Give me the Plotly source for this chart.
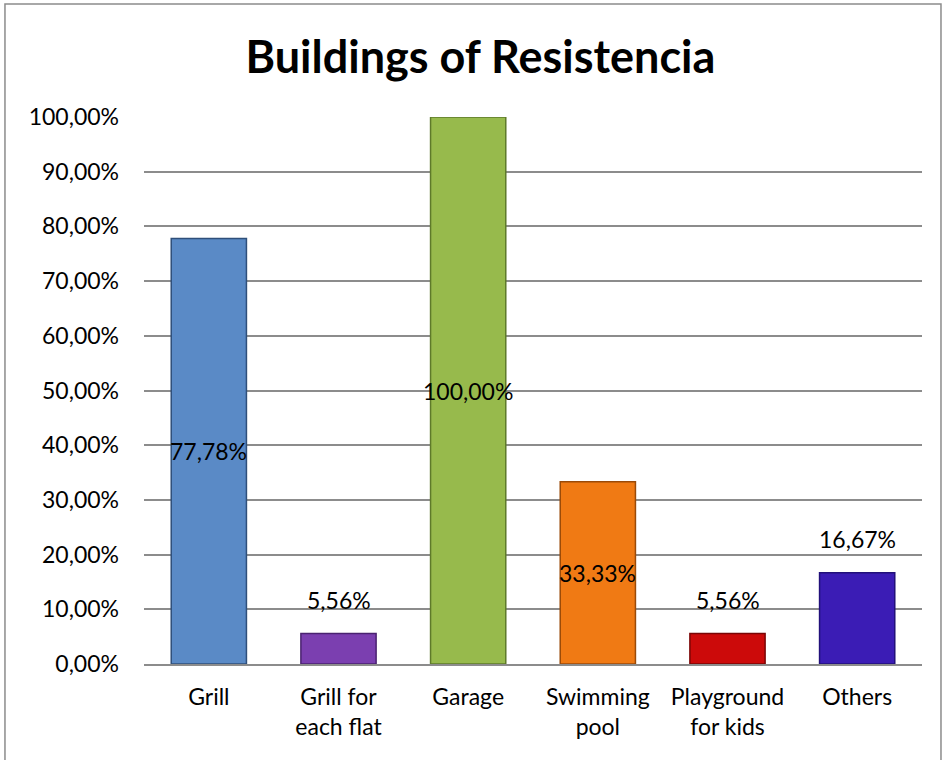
import plotly.graph_objects as go

# data
categories = ["Grill", "Grill for<br>each flat", "Garage", "Swimming<br>pool", "Playground<br>for kids", "Others"]
values = [77.78, 5.56, 100.00, 33.33, 5.56, 16.67]
label_inside = [True, False, True, True, False, False]
bar_colors = ["#5A8AC6", "#7B3FB0", "#97BA4C", "#F07A14", "#CC0A0A", "#3B1CB5"]
edge_colors = ["#2F4F7A", "#4A2270", "#5E7A2A", "#9A4A08", "#7A0505", "#22107A"]
y_ticks = [0, 10, 20, 30, 40, 50, 60, 70, 80, 90, 100]
y_tick_text = [f"{t:.2f}%".replace(".", ",") for t in y_ticks]

FONT = "Lato"
FS = 23

fig = go.Figure(go.Bar(
    x=categories,
    y=values,
    marker=dict(color=bar_colors, line=dict(color=edge_colors, width=1.5)),
    width=0.58,
    hoverinfo="skip",
))

# value labels: centred in tall bars, above the short ones
for cat, v, inside in zip(categories, values, label_inside):
    txt = f"{v:.2f}%".replace(".", ",")
    if inside:
        fig.add_annotation(x=cat, y=v / 2, text=txt, showarrow=False,
                           font=dict(family=FONT, size=FS, color="black"),
                           yanchor="middle")
    else:
        fig.add_annotation(x=cat, y=v, text=txt, showarrow=False,
                           font=dict(family=FONT, size=FS, color="black"),
                           yanchor="bottom", yshift=18)

# outer chart border
fig.add_shape(type="rect", xref="paper", yref="paper",
              x0=-0.1787, x1=1.0244, y0=-0.18, y1=1.2066,
              line=dict(color="#8C8C8C", width=1.5), layer="below")

fig.update_layout(
    width=942, height=760,
    margin=dict(l=144, r=20, t=117, b=96),
    paper_bgcolor="white", plot_bgcolor="white",
    showlegend=False,
    title=dict(text="<b>Buildings of Resistencia</b>", x=0.51, xanchor="center",
               y=0.925, yanchor="middle",
               font=dict(family=FONT, size=45, color="black")),
    font=dict(family=FONT, size=FS, color="black"),
)
fig.update_yaxes(range=[0, 100], tickvals=y_ticks, ticktext=y_tick_text,
                 showgrid=True, gridcolor="#8C8C8C", gridwidth=1.5,
                 zeroline=False, showline=False, ticks="", ticklabelstandoff=24,
                 tickfont=dict(family=FONT, size=FS, color="black"))
fig.update_xaxes(showline=True, linecolor="#8C8C8C", linewidth=1.5, ticks="",
                 ticklabelstandoff=12,
                 tickfont=dict(family=FONT, size=FS, color="black"))

fig.write_html("out.html", config={"displayModeBar": False},
               post_script="document.body.style.margin='0';")
